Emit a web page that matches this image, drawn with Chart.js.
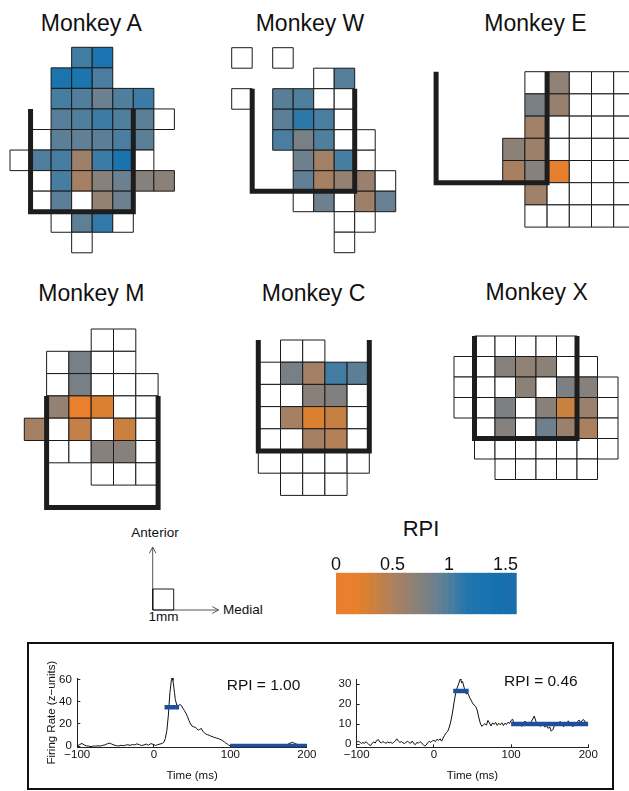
<!DOCTYPE html>
<html><head><meta charset="utf-8">
<script src="https://cdn.jsdelivr.net/npm/chart.js@4.4.1/dist/chart.umd.min.js"></script>
<style>
html,body{margin:0;padding:0;background:#fff;}
body{width:629px;height:791px;overflow:hidden;position:relative;font-family:"Liberation Sans",Arial,Helvetica,sans-serif;color:#111;}
.abs{position:absolute;white-space:nowrap;}
canvas{position:absolute;}
#frame{position:absolute;left:27px;top:642px;width:583px;height:144px;border:2px solid #111;}
</style></head><body>
<div id="frame"></div>
<script>
// ---------------- DATA ----------------
// cells: [column, row, RPI]  (null = recorded site without RPI, drawn white)
const monkeyA = [[3,0,1.05],[4,0,1.28],
 [2,1,1.25],[3,1,1.22],[4,1,1.02],
 [2,2,1.03],[3,2,0.99],[4,2,0.88],[5,2,1.0],[6,2,1.07],
 [2,3,0.97],[3,3,1.0],[4,3,1.06],[5,3,1.0],[6,3,0.95],[7,3,null],
 [1,4,null],[2,4,0.95],[3,4,0.93],[4,4,0.95],[5,4,1.02],[6,4,0.95],
 [0,5,null],[1,5,1.0],[2,5,1.03],[3,5,0.6],[4,5,1.07],[5,5,1.3],[6,5,null],
 [1,6,null],[2,6,1.03],[3,6,0.55],[4,6,0.73],[5,6,0.88],[6,6,0.74],[7,6,0.7],
 [1,7,null],[2,7,0.95],[3,7,null],[4,7,0.66],[5,7,0.88],
 [2,8,null],[3,8,0.94],[4,8,1.1],[5,8,null],
 [3,9,null]];
const monkeyW = [[0,0,null],[2,0,null],
 [4,1,null],[5,1,0.97],
 [0,2,null],[2,2,0.97],[3,2,1.0],[4,2,null],[5,2,null],
 [2,3,0.95],[3,3,1.12],[4,3,1.02],[5,3,null],
 [2,4,1.02],[3,4,0.82],[4,4,1.0],[5,4,null],[6,4,null],
 [3,5,0.87],[4,5,0.57],[5,5,1.03],[6,5,null],
 [3,6,0.93],[4,6,0.55],[5,6,0.66],[6,6,0.62],[7,6,null],
 [3,7,null],[4,7,0.87],[5,7,null],[6,7,0.6],[7,7,0.9],
 [5,8,null],[6,8,null],
 [5,9,null]];
const monkeyE = [[1,0,null],[2,0,0.68],[3,0,null],[4,0,null],[5,0,null],
 [1,1,0.82],[2,1,0.63],[3,1,null],[4,1,null],[5,1,null],
 [1,2,0.58],[2,2,null],[3,2,null],[4,2,null],[5,2,null],
 [0,3,0.7],[1,3,0.6],[2,3,null],[3,3,null],[4,3,null],[5,3,null],
 [0,4,0.54],[1,4,0.74],[2,4,0.18],[3,4,null],[4,4,null],[5,4,null],
 [1,5,0.58],[2,5,null],[3,5,null],[4,5,null],[5,5,null],
 [1,6,null],[2,6,null],[3,6,null],[4,6,null],[5,6,null]];
const monkeyM = [[3,0,null],[4,0,null],
 [1,1,null],[2,1,0.82],[3,1,null],[4,1,null],
 [1,2,null],[2,2,0.82],[3,2,null],[4,2,null],[5,2,null],
 [1,3,0.66],[2,3,0.1],[3,3,0.25],[4,3,null],[5,3,null],
 [0,4,0.55],[1,4,null],[2,4,0.38],[3,4,null],[4,4,0.35],[5,4,null],
 [1,5,null],[2,5,null],[3,5,0.74],[4,5,0.72],[5,5,null],
 [3,6,null],[4,6,null],[5,6,null]];
const monkeyC = [[1,0,null],[2,0,null],
 [0,1,null],[1,1,0.82],[2,1,0.57],[3,1,1.05],[4,1,0.95],
 [0,2,null],[1,2,null],[2,2,0.72],[3,2,0.76],[4,2,null],
 [0,3,null],[1,3,0.55],[2,3,0.25],[3,3,0.37],[4,3,null],
 [0,4,null],[1,4,null],[2,4,0.55],[3,4,0.47],[4,4,null],
 [0,5,null],[1,5,null],[2,5,null],[3,5,null],[4,5,null],
 [1,6,null],[2,6,null],[3,6,null]];
const monkeyX = [[1,0,null],[2,0,null],[3,0,null],[4,0,null],[5,0,null],
 [0,1,null],[1,1,null],[2,1,0.74],[3,1,0.68],[4,1,0.7],[5,1,null],[6,1,null],
 [0,2,null],[1,2,null],[2,2,null],[3,2,0.7],[4,2,null],[5,2,0.8],[6,2,0.73],[7,2,null],
 [0,3,null],[1,3,null],[2,3,0.8],[3,3,null],[4,3,0.72],[5,3,0.35],[6,3,0.62],[7,3,null],
 [1,4,null],[2,4,0.74],[3,4,null],[4,4,0.87],[5,4,0.6],[6,4,0.53],[7,4,null],
 [1,5,null],[2,5,null],[3,5,null],[4,5,null],[5,5,null],[6,5,null],[7,5,null],
 [2,6,null],[3,6,null],[4,6,null],[5,6,null],[6,6,null]];
// sulcus outlines (grid units)
const outlineA = [[1,3],[1,8],[6,8],[6,3]];
const outlineW = [[1,2],[1,7],[6,7],[6,2]];
const outlineE = [[-3,0],[-3,5],[2,5],[2,0]];
const outlineM = [[1,3],[1,8],[6,8],[6,3]];
const outlineC = [[0,0],[0,5],[5,5],[5,0]];
const outlineX = [[1,0],[1,5],[6,5],[6,0]];
const monkeyNames = ['Monkey A','Monkey W','Monkey E','Monkey M','Monkey C','Monkey X'];

// colour bar
const rpiBins = [0,0.05,0.1,0.15,0.2,0.25,0.3,0.35,0.4,0.45,0.5,0.55,0.6,0.65,0.7,0.75,0.8,0.85,0.9,0.95,1.0,1.05,1.1,1.15,1.2,1.25,1.3,1.35,1.4,1.45,1.5,1.55];
const rpiTickValues = [0,0.5,1,1.5];
const rpiTickLabels = ['0','0.5','1','1.5'];

// example neurons: [time ms, firing rate z]
const traceA = [[-100,0.6],[-97,1.5],[-94,2.6],[-91,1.2],[-88,0.4],[-85,0.2],[-82,-0.3],[-79,0.3],[-76,0.1],[-73,0.5],[-70,0.2],[-67,0.8],[-64,1.2],[-61,2.2],[-58,2.8],[-55,2.0],[-52,1.1],[-49,0.6],[-46,0.3],[-43,0.9],[-40,0.5],[-37,1.0],[-34,1.4],[-31,0.8],[-28,1.6],[-25,1.2],[-22,2.2],[-19,1.4],[-16,0.7],[-13,1.2],[-10,2.0],[-7,1.0],[-4,2.4],[-1,1.8],[2,0.8],[5,1.4],[8,2.0],[11,2.6],[13,3.5],[15,7],[17,14],[19,28],[21,48],[23,60],[24,62],[25,59],[27,48],[28,42],[30,37],[32,36.5],[34,37.5],[36,36.5],[38,34],[40,32],[42,29.5],[44,26.5],[46,23],[48,20],[50,18],[52,17.5],[54,17],[56,16],[58,14.5],[60,15.2],[62,16],[64,13.5],[66,12],[68,11],[70,10.4],[72,10],[74,9.2],[76,8.8],[78,8.2],[80,7.8],[82,7.3],[84,7],[86,6.4],[88,5.8],[90,5.0],[92,4],[94,3],[96,2],[98,1],[100,0.2],[103,-0.2],[106,0.3],[110,-0.5],[114,-0.2],[118,0.4],[122,-0.6],[126,-0.3],[130,0.2],[134,-0.4],[138,0.3],[142,0.6],[146,0.1],[150,-0.3],[154,0.4],[158,0.8],[162,0.2],[166,0.5],[170,0.9],[174,1.4],[178,2.8],[181,3.6],[184,2.6],[187,1.8],[190,1.4],[193,1.6],[196,1.2],[200,1.0]];
const traceB = [[-100,0.7],[-98,1.5],[-96,1.0],[-94,0.2],[-92,0.8],[-90,0.3],[-88,1.2],[-86,0.4],[-84,-0.4],[-82,-0.8],[-80,0.4],[-78,1.0],[-76,0.5],[-74,1.8],[-72,2.2],[-70,1.0],[-68,0.6],[-66,1.2],[-64,0.7],[-62,0.4],[-60,1.0],[-58,0.6],[-56,0.9],[-54,0.3],[-52,0.8],[-50,1.6],[-48,2.6],[-46,1.4],[-44,0.8],[-42,1.2],[-40,0.5],[-38,0.3],[-36,0.9],[-34,1.4],[-32,0.6],[-30,0.4],[-28,1.5],[-26,0.2],[-24,-0.3],[-22,0.8],[-20,0.4],[-18,1.2],[-16,0.5],[-14,-0.2],[-12,-1.0],[-10,-0.5],[-8,0.6],[-6,1.4],[-4,0.8],[-2,1.6],[0,1.8],[2,1.2],[4,2.4],[6,1.8],[8,2.6],[10,1.4],[12,3.0],[14,4.4],[16,5.6],[18,6.4],[20,8.5],[22,11.5],[24,15.5],[26,20.5],[28,25],[30,28],[32,30],[34,32.4],[35,32],[36,30.5],[37,31.2],[38,30],[40,27],[42,25],[44,25.4],[46,23.5],[48,22],[50,20.5],[52,19.5],[54,18.8],[56,17],[58,13.5],[60,10.5],[62,8.8],[64,9.5],[66,10.2],[68,9.4],[70,11.8],[72,10.5],[74,9.0],[76,10.6],[78,9.8],[80,10.8],[82,9.3],[84,10.4],[86,9.6],[88,10.6],[90,9.2],[92,10.4],[94,9.8],[96,10.9],[98,10.2],[100,11.8],[102,12.4],[104,9.8],[106,9.2],[108,10.6],[110,9.0],[112,10.2],[114,8.8],[116,10.4],[118,11.5],[120,9.8],[122,10.6],[124,9.2],[126,11],[128,12.5],[130,14],[132,11.5],[134,9.5],[136,10.2],[138,8.8],[140,9.6],[142,10.3],[144,8.4],[146,9.2],[148,7.8],[150,8.6],[152,6.4],[154,7.2],[156,9.0],[158,10.4],[160,9.2],[162,10.8],[164,11.2],[166,9.5],[168,8.6],[170,10.2],[172,9.0],[174,11.6],[176,10.0],[178,9.4],[180,8.6],[182,10.2],[184,9.4],[186,11.2],[188,12.0],[190,10.6],[192,11.8],[194,12.2],[196,11.0],[198,10.4],[200,10.0]];
const earlyA = [[14,35],[33,35]];
const lateA = [[100,0.3],[200,0.3]];
const earlyB = [[25,26.5],[45,26.5]];
const lateB = [[100,10],[200,10]];
const rpiTextA = 'RPI = 1.00';
const rpiTextB = 'RPI = 0.46';
const timeTicks = [-100,0,100,200];
const timeTickLabels = ['\u2212100','0','100','200'];
const rateTicksA = [0,20,40,60];
const rateTicksB = [0,10,20,30];

// orientation key (mm)
const keySquare = [[0,0],[1,0],[1,1],[0,1],[0,0]];
const keyAnterior = [[0,0],[0,3.0]];
const keyAnteriorHead = [[-0.16,2.7],[0,3.0],[0.16,2.7]];
const keyMedial = [[0,0],[3.14,0]];
const keyMedialHead = [[2.84,0.16],[3.14,0],[2.84,-0.16]];

// ---------------- STYLE ----------------
const cmapStops = [0,0.15,0.3,0.4,0.5,0.6,0.7,0.8,0.9,1.0,1.1,1.2,1.4,1.6];
const cmapRGB = [[234,125,46],[234,128,44],[212,128,52],[192,128,74],[174,128,92],[157,128,106],[140,129,119],[124,128,131],[104,128,146],[80,126,157],[50,121,168],[30,117,174],[22,113,176],[26,110,170]];
function rpiColor(v){
  if (v <= cmapStops[0]) return 'rgb('+cmapRGB[0].join(',')+')';
  for (let i=1;i<cmapStops.length;i++){
    if (v <= cmapStops[i]){
      const t=(v-cmapStops[i-1])/(cmapStops[i]-cmapStops[i-1]);
      const a=cmapRGB[i-1], b=cmapRGB[i];
      return 'rgb('+a.map((c,k)=>Math.round(c+(b[k]-c)*t)).join(',')+')';
    }
  }
  return 'rgb('+cmapRGB[cmapRGB.length-1].join(',')+')';
}
Chart.defaults.font.family = '"Liberation Sans", Arial, Helvetica, sans-serif';
Chart.defaults.color = '#111';

function makeCanvas(left, top, w, h){
  const c=document.createElement('canvas');
  c.width=w; c.height=h;
  c.style.left=left+'px'; c.style.top=top+'px';
  c.style.width=w+'px'; c.style.height=h+'px';
  document.body.appendChild(c);
  return c;
}
function addText(txt, x, baseline, size, center){
  const d=document.createElement('div');
  d.className='abs'; d.textContent=txt;
  d.style.fontSize=size+'px'; d.style.lineHeight=size+'px';
  d.style.top=(baseline-0.8465*size)+'px';
  d.style.left=x+'px';
  if (center) d.style.transform='translateX(-50%)';
  document.body.appendChild(d);
}

// grid panels layout
const panels = [
 {cells:monkeyA, outline:outlineA, ox:10,    oy:47.3, s:20.55, cx:[0,8],  ry:[0,10], tx:91.3,  ty:31.7},
 {cells:monkeyW, outline:outlineW, ox:231.7, oy:47.7, s:20.5,  cx:[0,8],  ry:[0,10], tx:310,   ty:31.7},
 {cells:monkeyE, outline:outlineE, ox:502.7, oy:71.7, s:22.2,  cx:[-3,6], ry:[0,7],  tx:535.5, ty:31.7},
 {cells:monkeyM, outline:outlineM, ox:24.3,  oy:329,  s:22.3,  cx:[0,6],  ry:[0,8],  tx:91.3,  ty:301},
 {cells:monkeyC, outline:outlineC, ox:258.3, oy:340,  s:22.2,  cx:[0,5],  ry:[0,7],  tx:313.5, ty:301.5},
 {cells:monkeyX, outline:outlineX, ox:454,   oy:336,  s:20.5,  cx:[0,8],  ry:[0,7],  tx:536.7, ty:300}
];
function cellPx(ctx){
  const sx=ctx.chart.scales.x;
  return Math.abs(sx.getPixelForValue(1)-sx.getPixelForValue(0));
}
panels.forEach((p,i)=>{
  addText(monkeyNames[i], p.tx, p.ty, 23, true);
  const left=Math.floor(p.ox+(p.cx[0]-0.6)*p.s), right=Math.ceil(p.ox+(p.cx[1]+0.6)*p.s);
  const top=Math.floor(p.oy+(p.ry[0]-0.6)*p.s), bottom=Math.ceil(p.oy+(p.ry[1]+0.6)*p.s);
  const cv=makeCanvas(left, top, right-left, bottom-top);
  new Chart(cv, {
    type:'scatter',
    data:{datasets:[
      {data:p.outline.map(([x,y])=>({x,y})), showLine:true, borderColor:'#1d1d1d', borderWidth:5,
       pointRadius:0, borderJoinStyle:'miter', borderCapStyle:'butt', clip:false, order:0},
      {data:p.cells.map(([c,r,v])=>({x:c+0.5,y:r+0.5,v})), pointStyle:'rect',
       pointRadius:ctx=>cellPx(ctx)/Math.SQRT2, pointHoverRadius:ctx=>cellPx(ctx)/Math.SQRT2,
       pointBackgroundColor:ctx=>(ctx.raw && ctx.raw.v!=null)?rpiColor(ctx.raw.v):'#ffffff',
       pointBorderColor:'#1a1a1a', pointBorderWidth:1, clip:false, order:1}
    ]},
    options:{responsive:false, animation:false, events:[], layout:{padding:0},
      plugins:{legend:{display:false}, tooltip:{enabled:false}},
      scales:{
        x:{type:'linear', display:false, min:(left-p.ox)/p.s, max:(right-p.ox)/p.s},
        y:{type:'linear', display:false, reverse:true, min:(top-p.oy)/p.s, max:(bottom-p.oy)/p.s}
      }}
  });
});

// colour bar
addText('RPI', 421, 537, 22, true);
(function(){
  const cv=makeCanvas(316,545,224,70);
  new Chart(cv,{
    type:'bar',
    data:{datasets:[{data:rpiBins.map(b=>({x:b+0.025,y:1})),
      backgroundColor:rpiBins.map(b=>rpiColor(b+0.025)), borderWidth:0,
      barPercentage:1, categoryPercentage:1}]},
    options:{responsive:false, animation:false, events:[],
      layout:{padding:{left:20,right:23.3,top:0,bottom:0.7}},
      plugins:{legend:{display:false}, tooltip:{enabled:false}},
      scales:{
        x:{type:'linear', position:'top', min:0, max:1.6, offset:false,
          afterBuildTicks:a=>{a.ticks=rpiTickValues.map(v=>({value:v}));},
          afterFit:a=>{a.height=27.7;},
          ticks:{font:{size:18}, padding:-0.8, maxRotation:0, autoSkip:false,
            callback:v=>rpiTickLabels[rpiTickValues.indexOf(v)]},
          grid:{display:true, drawOnChartArea:false, drawTicks:true, tickLength:-2, color:'#333', offset:false},
          border:{display:false}},
        y:{display:false, min:0, max:1}
      }}
  });
})();

// orientation key
addText('Anterior', 155, 537.3, 13.5, true);
addText('Medial', 223, 614.3, 13.5, false);
addText('1mm', 163.5, 621, 13.5, true);
(function(){
  const L=140,T=540,W=92,H=76, ox=152.7, oy=610, mm=21;
  const cv=makeCanvas(L,T,W,H);
  const ds=(d,c)=>({data:d.map(([x,y])=>({x,y})), showLine:true, borderColor:c, borderWidth:1, pointRadius:0, clip:false});
  new Chart(cv,{
    type:'scatter',
    data:{datasets:[ds(keySquare,'#1a1a1a'), ds(keyAnterior,'#555'), ds(keyAnteriorHead,'#555'), ds(keyMedial,'#555'), ds(keyMedialHead,'#555')]},
    options:{responsive:false, animation:false, events:[], layout:{padding:0},
      plugins:{legend:{display:false}, tooltip:{enabled:false}},
      scales:{x:{type:'linear',display:false,min:(L-ox)/mm,max:(L+W-ox)/mm},
              y:{type:'linear',display:false,min:(oy-(T+H))/mm,max:(oy-T)/mm}}}
  });
})();

// example neuron plots
function psth(left, pads, yWidth, trace, early, late, yTicks, yMin, yMax, yTitle){
  const cv=makeCanvas(left,645,290,145);
  const line=(d,c,w)=>({type:'line', data:d.map(([x,y])=>({x,y})), borderColor:c, borderWidth:w, pointRadius:0, borderCapStyle:'butt', tension:0, fill:false});
  const inTicks={display:true, drawOnChartArea:false, drawTicks:true, tickLength:-3, color:'#222'};
  new Chart(cv,{
    type:'line',
    data:{datasets:[Object.assign(line(early,'#1f4f9c',4.5),{order:0}), Object.assign(line(late,'#1f4f9c',4.5),{order:0}), Object.assign(line(trace,'#111',1),{order:1})]},
    options:{responsive:false, animation:false, events:[],
      layout:{padding:pads},
      plugins:{legend:{display:false}, tooltip:{enabled:false}},
      scales:{
        x:{type:'linear', min:-100, max:200,
          afterBuildTicks:a=>{a.ticks=timeTicks.map(v=>({value:v}));},
          afterFit:a=>{a.height=42.7;},
          ticks:{font:{size:11.5}, padding:3.5, maxRotation:0, autoSkip:false,
            callback:v=>timeTickLabels[timeTicks.indexOf(v)]},
          grid:inTicks, border:{display:true, color:'#222', width:1},
          title:{display:true, text:'Time (ms)', font:{size:11.5}, padding:{top:0,bottom:7.1}}},
        y:{type:'linear', min:yMin, max:yMax,
          afterBuildTicks:a=>{a.ticks=yTicks.map(v=>({value:v}));},
          afterFit:a=>{a.width=yWidth;},
          ticks:{font:{size:11.5}, padding:8.4, autoSkip:false},
          grid:inTicks, border:{display:true, color:'#222', width:1},
          title:{display:!!yTitle, text:yTitle||'', font:{size:11.5}, padding:{top:14.8,bottom:0}}}
      }}
  });
}
psth(30, {left:0,right:11.3,top:33,bottom:0}, 47.3, traceA, earlyA, lateA, rateTicksA, -0.9, 61.2, 'Firing Rate (z\u2212units)');
psth(320, {left:0,right:21.7,top:34,bottom:0}, 36.7, traceB, earlyB, lateB, rateTicksB, -1.65, 32.5, null);
addText(rpiTextA, 226.7, 690, 15.5, false);
addText(rpiTextB, 504, 686, 15.5, false);
</script>
</body></html>
